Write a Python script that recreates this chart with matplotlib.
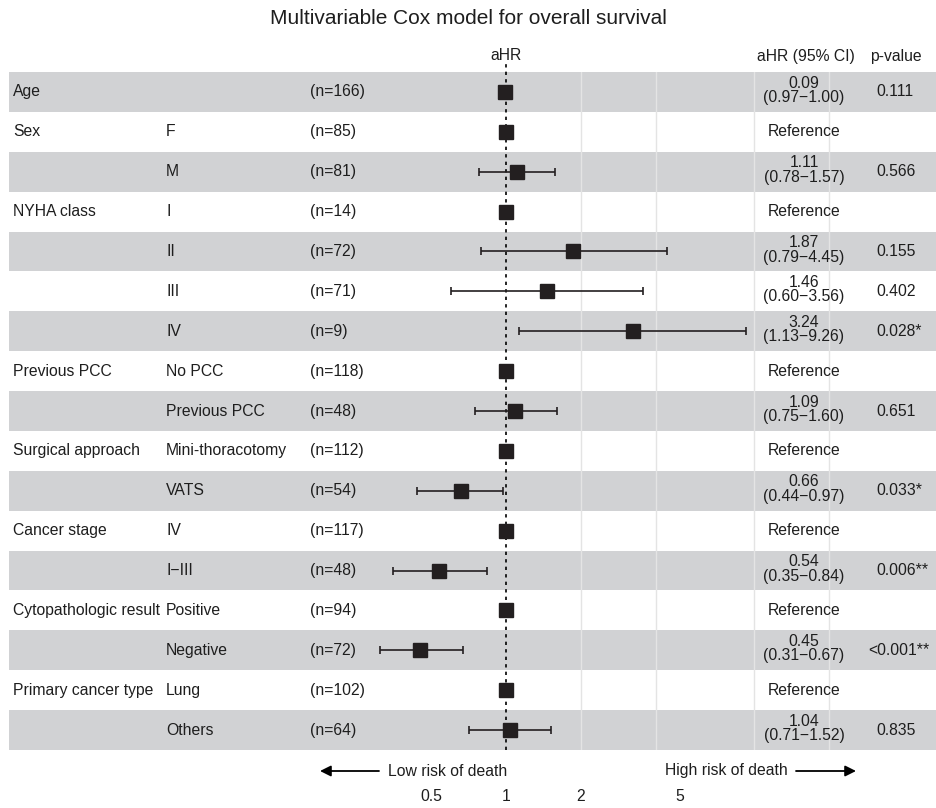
import numpy as np
import matplotlib
matplotlib.use("Agg")
import matplotlib.pyplot as plt
from matplotlib.ticker import NullLocator

plt.rcParams["font.family"] = ["Liberation Sans", "DejaVu Sans"]

# rows, top to bottom
variables = ["Age", "Sex", "", "NYHA class", "", "", "", "Previous PCC", "",
             "Surgical approach", "", "Cancer stage", "", "Cytopathologic result", "",
             "Primary cancer type", ""]
levels = ["", "F", "M", "I", "II", "III", "IV", "No PCC", "Previous PCC",
          "Mini-thoracotomy", "VATS", "IV", "I\u2212III", "Positive", "Negative", "Lung", "Others"]
n_obs = [166, 85, 81, 14, 72, 71, 9, 118, 48, 112, 54, 117, 48, 94, 72, 102, 64]
hr = [0.99, 1, 1.11, 1, 1.87, 1.46, 3.24, 1, 1.09, 1, 0.66, 1, 0.54, 1, 0.45, 1, 1.04]
ci_low = [0.97, np.nan, 0.78, np.nan, 0.79, 0.60, 1.13, np.nan, 0.75, np.nan, 0.44,
          np.nan, 0.35, np.nan, 0.31, np.nan, 0.71]
ci_high = [1.00, np.nan, 1.57, np.nan, 4.45, 3.56, 9.26, np.nan, 1.60, np.nan, 0.97,
           np.nan, 0.84, np.nan, 0.67, np.nan, 1.52]
hr_labels = ["0.09", "", "1.11", "", "1.87", "1.46", "3.24", "", "1.09", "", "0.66",
             "", "0.54", "", "0.45", "", "1.04"]
p_values = ["0.111", "", "0.566", "", "0.155", "0.402", "0.028*", "", "0.651", "",
            "0.033*", "", "0.006**", "", "<0.001**", "", "0.835"]
ticks = [0.5, 1, 2, 5]
grid_at = [2, 4, 10, 20]

W, H = 936, 808
fig = plt.figure(figsize=(W / 100, H / 100), dpi=100)
ax = fig.add_axes([9 / W, 1 - 750 / H, 1 - 9 / W, (750 - 72) / H])

rows = np.arange(len(levels))
ax.set_xscale("log")
ax.set_xlim(0.01, 53.8)
ax.set_ylim(len(levels) - 0.5, -0.5)

band = "#D1D2D4"
for r in rows:
    if r % 2 == 0:
        ax.axhspan(r - 0.5, r + 0.5, color=band, lw=0, zorder=0)
for g in grid_at:
    ax.axvline(g, color="#E4E4E4", lw=1.0, zorder=1)
ax.vlines(1, len(levels) - 0.5, -0.8, colors="black", linestyles=(0, (2, 2.5)),
          lw=1.2, zorder=2, clip_on=False)

hr_a = np.array(hr)
lo = np.array(ci_low)
hi = np.array(ci_high)
has_ci = ~np.isnan(lo)
ax.errorbar(hr_a[has_ci], rows[has_ci],
            xerr=[hr_a[has_ci] - lo[has_ci], hi[has_ci] - hr_a[has_ci]],
            fmt="none", ecolor="#231F20", elinewidth=1.2, capsize=3, capthick=1.2, zorder=3)
ax.plot(hr_a, rows, "s", color="#231F20", ms=10, zorder=4)

tr = ax.get_yaxis_transform()


def fx(px):
    return (px - 9) / (W - 9)


fs = 11.3
tc = "#1E1E1E"
for r in rows:
    ax.text(fx(13), r, variables[r], transform=tr, ha="left", va="center", fontsize=fs, color=tc)
    ax.text(fx(166), r, levels[r], transform=tr, ha="left", va="center", fontsize=fs, color=tc)
    ax.text(fx(310), r, f"(n={n_obs[r]})", transform=tr, ha="left", va="center", fontsize=fs, color=tc)
    if hr_labels[r] == "":
        ax.text(fx(804), r, "Reference", transform=tr, ha="center", va="center", fontsize=fs, color=tc)
    else:
        ax.text(fx(804), r - 0.22, hr_labels[r], transform=tr, ha="center", va="center",
                fontsize=fs, color=tc)
        ax.text(fx(804), r + 0.14, f"({ci_low[r]:.2f}\u2212{ci_high[r]:.2f})", transform=tr,
                ha="center", va="center", fontsize=fs, color=tc)
    if p_values[r]:
        px = 868 if p_values[r].startswith("<") else 876
        ax.text(fx(px), r, p_values[r], transform=tr, ha="left", va="center", fontsize=fs,
                color=tc, clip_on=False)

# header
fig.text(468 / W, 1 - 19 / H, "Multivariable Cox model for overall survival", ha="center", va="center",
         fontsize=15, color=tc)
fig.text(506 / W, 1 - 56 / H, "aHR", ha="center", va="center", fontsize=fs, color=tc)
fig.text(806 / W, 1 - 56 / H, "aHR (95% CI)", ha="center", va="center", fontsize=fs, color=tc)
fig.text(870 / W, 1 - 56 / H, "p-value", ha="left", va="center", fontsize=fs, color=tc)

# risk arrows
ya = 1 - 771 / H
fig.text(507 / W, ya, "Low risk of death", ha="right", va="center", fontsize=fs, color=tc)
fig.text(665 / W, ya, "High risk of death", ha="left", va="center", fontsize=fs, color=tc)
ax.annotate("", xy=(320 / W, ya), xytext=(379 / W, ya), xycoords="figure fraction",
            arrowprops=dict(arrowstyle="-|>", color="black", lw=1.3, mutation_scale=16,
                            shrinkA=0, shrinkB=0))
ax.annotate("", xy=(856 / W, ya), xytext=(796 / W, ya), xycoords="figure fraction",
            arrowprops=dict(arrowstyle="-|>", color="black", lw=1.3, mutation_scale=16,
                            shrinkA=0, shrinkB=0))

ax.set_xticks(ticks)
ax.set_xticklabels([f"{t:g}" for t in ticks])
ax.xaxis.set_minor_locator(NullLocator())
ax.tick_params(axis="x", length=0, pad=28, labelsize=fs, labelcolor=tc)
ax.set_yticks([])
for s in ax.spines.values():
    s.set_visible(False)

fig.savefig("out.png", dpi=100)
